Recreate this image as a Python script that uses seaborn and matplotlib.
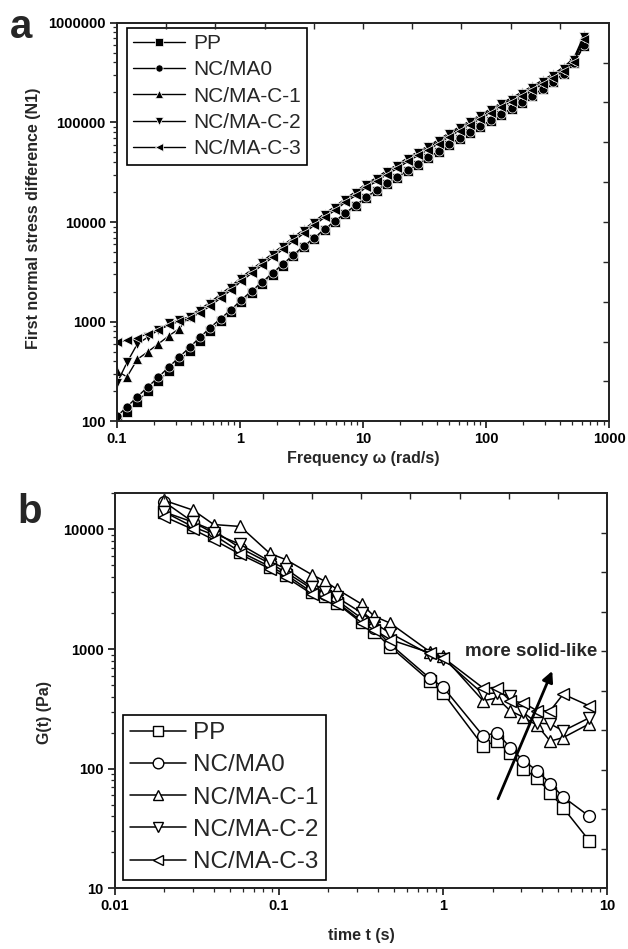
import matplotlib
matplotlib.use('Agg')
import matplotlib.pyplot as plt
import seaborn as sns
import pandas as pd
import numpy as np
from matplotlib.ticker import FuncFormatter

# ---- panel a: first normal stress difference vs frequency ----
freq = [0.1, 0.121, 0.147, 0.179, 0.218, 0.264, 0.321, 0.390, 0.473, 0.575,
        0.698, 0.848, 1.03, 1.25, 1.52, 1.85, 2.24, 2.72, 3.31, 4.01,
        4.88, 5.92, 7.19, 8.73, 10.6, 12.9, 15.6, 19.0, 23.1, 28.0,
        34.0, 41.3, 50.2, 61.0, 74.1, 90.0, 109, 133, 161, 196,
        238, 289, 351, 426, 517, 628]

n1_pp = [98, 125, 158, 200, 252, 318, 402, 508, 640, 810,
         1005, 1240, 1570, 1950, 2400, 2970, 3660, 4520, 5580, 6750,
         8300, 10000, 12050, 14500, 17450, 20500, 24100, 27700, 32600, 37500,
         44000, 50600, 59500, 68400, 78500, 90200, 103500, 119000, 136500, 157000,
         184000, 216000, 254000, 305000, 392000, 590000]
n1_ma0 = [112, 140, 177, 222, 278, 350, 440, 553, 695, 874,
          1075, 1320, 1660, 2040, 2510, 3090, 3800, 4680, 5750, 6920,
          8510, 10230, 12300, 14800, 17800, 20900, 24500, 28200, 33100, 38000,
          44700, 51300, 60300, 69200, 79400, 91200, 104700, 120200, 138000, 158500,
          186200, 218800, 257000, 309000, 398000, 603000]
n1_c1 = [320, 280, 420, 500, 600, 720, 850, 1150, 1330, 1570,
         1890, 2270, 2790, 3350, 4030, 4850, 5830, 7010, 8430, 10130,
         12180, 14300, 17200, 20200, 24300, 27900, 32800, 37600, 44300, 50800,
         58300, 67000, 78700, 90300, 103700, 119000, 136700, 157000, 176000, 202000,
         232000, 266000, 306000, 359000, 442000, 760000]
n1_c2 = [240, 390, 600, 700, 830, 960, 1040, 1122, 1288, 1514,
         1820, 2188, 2692, 3236, 3890, 4677, 5623, 6761, 8128, 9772,
         11750, 13800, 16600, 19500, 23440, 26900, 31600, 36300, 42700, 49000,
         56200, 64600, 75900, 87100, 100000, 114800, 131800, 151400, 169800, 195000,
         223900, 257000, 295100, 346700, 426600, 724400]
n1_c3 = [620, 650, 690, 760, 830, 920, 1010, 1080, 1230, 1440,
         1730, 2080, 2560, 3070, 3700, 4440, 5340, 6420, 7720, 9280,
         11160, 13100, 15800, 18500, 22300, 25600, 30000, 34500, 40600, 46600,
         53400, 61400, 72100, 82700, 95000, 109000, 125200, 143800, 161300, 185000,
         212700, 244000, 280000, 329000, 405000, 690000]

# ---- panel b: stress relaxation modulus vs time ----
time_t = [0.02, 0.03, 0.04, 0.058, 0.088, 0.11, 0.158, 0.19, 0.226, 0.32,
          0.38, 0.475, 0.83, 1.0, 1.75, 2.13, 2.56, 3.08, 3.74, 4.49,
          5.39, 7.76]
g_pp = [14000, 10500, 9000, 6500, 4900, 4200, 3000, 2800, 2450, 1700,
        1400, 1050, 540, 430, 155, 170, 135, 100, 83, 63,
        47, 25]
g_ma0 = [17000, 11500, 9800, 7000, 5200, 4400, 3200, 2900, 2550, 1800,
         1500, 1100, 570, 480, 188, 200, 150, 117, 96, 75,
         58, 40]
g_c1 = [17500, 14500, 11000, 10600, 6300, 5600, 4200, 3700, 3160, 2370,
        1880, 1650, 950, 870, 370, 390, 305, 270, 230, 170,
        182, 237]
g_c2 = [14000, 11500, 9300, 7500, 5400, 4700, 3300, 3000, 2700, 2000,
        1650, 1360, 900, 830, 422, 430, 405, 295, 240, 237,
        207, 266]
g_c3 = [12800, 10000, 8200, 6200, 4700, 4000, 2900, 2700, 2400, 1650,
        1450, 1200, 930, 850, 473, 473, 370, 355, 305, 305,
        420, 335]

labels = ["PP", "NC/MA0", "NC/MA-C-1", "NC/MA-C-2", "NC/MA-C-3"]
markers = ["s", "o", "^", "v", "<"]

sns.set_style("ticks")
plt.rcParams['font.family'] = ['Liberation Sans', 'DejaVu Sans']
plt.rcParams['axes.linewidth'] = 1.2

fig = plt.figure(figsize=(6.28, 9.49), dpi=100)
ax_a = fig.add_axes([0.186, 0.556, 0.784, 0.420])
ax_b = fig.add_axes([0.183, 0.064, 0.784, 0.416])


def fmt(v, _):
    return f"{v:.0f}" if v >= 1 else f"{v:g}"


def style_axes(ax, xlim, ylim):
    ax.set_xscale("log")
    ax.set_yscale("log")
    ax.set_xlim(*xlim)
    ax.set_ylim(*ylim)
    ax.xaxis.set_major_formatter(FuncFormatter(fmt))
    ax.yaxis.set_major_formatter(FuncFormatter(fmt))
    ax.tick_params(which="major", direction="out", length=5, width=1.1,
                   labelsize=10.5, pad=3, colors="black")
    ax.tick_params(which="minor", direction="out", length=3, width=0.9)
    for lab in ax.get_xticklabels() + ax.get_yticklabels():
        lab.set_fontweight("bold")
    for sp in ax.spines.values():
        sp.set_visible(True)
        sp.set_color("black")
    # opposite axes carry plain, evenly spaced inward ticks
    top = ax.twiny()
    top.set_xlim(0, 10)
    top.set_xticks(range(1, 10))
    top.tick_params(direction="in", length=4, width=1.0, labeltop=False)
    right = ax.twinx()
    right.set_ylim(0, 10)
    right.set_yticks(range(1, 10))
    right.tick_params(direction="in", length=4, width=1.0, labelright=False)


# panel a
series_a = [n1_pp, n1_ma0, n1_c1, n1_c2, n1_c3]
for name, vals, m in zip(labels, series_a, markers):
    sns.lineplot(x=freq, y=vals, ax=ax_a, color="black", marker=m,
                 markersize=6.5, lw=1.0, sort=False, label=name,
                 markeredgecolor="white", markeredgewidth=0.5)
style_axes(ax_a, (0.1, 1000), (100, 1e6))
ax_a.set_xlabel("Frequency \u03c9 (rad/s)", fontsize=11.5, fontweight="bold")
ax_a.set_ylabel("First normal stress difference (N1)", fontsize=11.5, fontweight="bold")
ax_a.xaxis.set_label_coords(0.5, -0.075)
ax_a.yaxis.set_label_coords(-0.153, 0.51)
leg = ax_a.legend(loc="upper left", bbox_to_anchor=(0.02, 0.987), borderaxespad=0,
                  fontsize=15, frameon=True, fancybox=False, edgecolor="black",
                  framealpha=1, handlelength=2.5, handletextpad=0.4,
                  labelspacing=0.35, borderpad=0.3, markerscale=0.8)
leg.get_frame().set_linewidth(1.2)

# panel b
series_b = [g_pp, g_ma0, g_c1, g_c2, g_c3]
for name, vals, m in zip(labels, series_b, markers):
    sns.lineplot(x=time_t, y=vals, ax=ax_b, color="black", marker=m,
                 markersize=8.5, lw=1.1, sort=False, label=name,
                 markerfacecolor="white", markeredgecolor="black",
                 markeredgewidth=1.0)
style_axes(ax_b, (0.01, 10), (10, 20000))
ax_b.set_xlabel("time t (s)", fontsize=11.5, fontweight="bold")
ax_b.set_ylabel("G(t) (Pa)", fontsize=11.5, fontweight="bold")
ax_b.xaxis.set_label_coords(0.5, -0.1)
ax_b.yaxis.set_label_coords(-0.128, 0.445)
leg = ax_b.legend(loc="lower left", bbox_to_anchor=(0.016, 0.02), borderaxespad=0,
                  fontsize=17.5, frameon=True, fancybox=False, edgecolor="black",
                  framealpha=1, handlelength=2.3, handletextpad=0.3,
                  labelspacing=0.42, borderpad=0.3, markerscale=0.9)
leg.get_frame().set_linewidth(1.2)

ax_b.annotate("", xy=(4.62, 656), xytext=(2.16, 56),
              arrowprops=dict(arrowstyle="-|>", lw=2, color="black",
                              mutation_scale=16, shrinkA=0, shrinkB=0))
ax_b.text(3.44, 962, "more solid-like", ha="center", va="center",
          fontsize=13.5, fontweight="bold")

fig.text(0.015, 1 - 38 / 949, "a", fontsize=29, fontweight="bold", va="baseline")
fig.text(0.027, 1 - 523 / 949, "b", fontsize=29, fontweight="bold", va="baseline")

fig.savefig("out.png", dpi=100)
plt.close(fig)
